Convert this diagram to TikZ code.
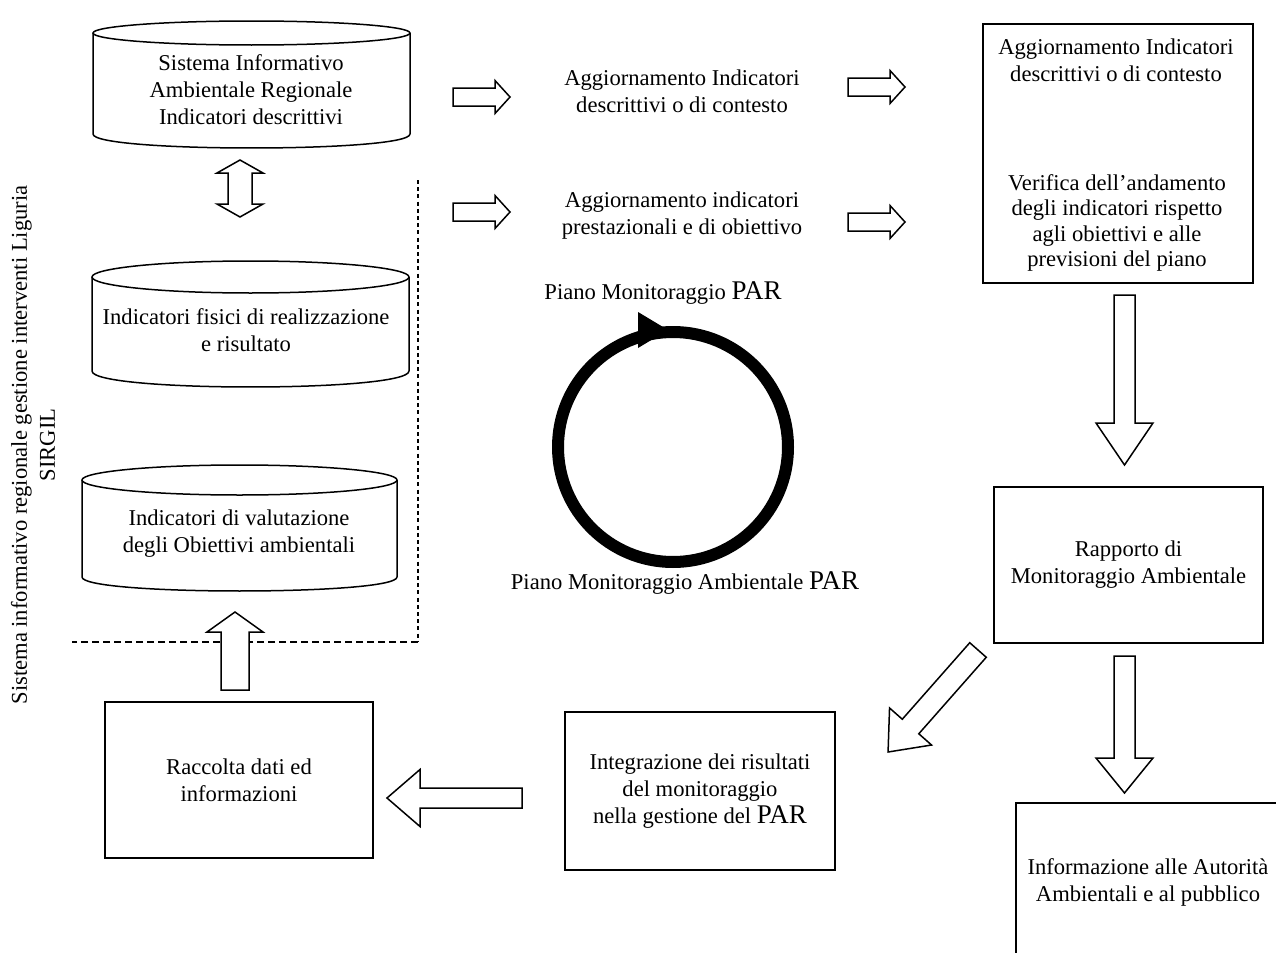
\documentclass[tikz,border=0pt]{standalone}
\usepackage{fontspec}
\setmainfont{Liberation Serif}
\tikzset{
 lbl/.style={font=\fontsize{11.3}{13.5}\selectfont, align=center, inner sep=0pt},
 boxed/.style={draw, line width=0.9pt, inner sep=0pt},
 barr/.style={draw, line width=0.75pt, fill=white, line join=miter},
 cyl/.style={draw, line width=0.75pt},
 dsh/.style={line width=0.6pt, dash pattern=on 3.5pt off 2pt},
 dshv/.style={line width=0.6pt, dash pattern=on 2pt off 1.6pt},
}
% x y angle length shaft-halfwidth head-halfwidth head-length
\newcommand\barrow[7]{\draw[barr, shift={(#1,#2)}, rotate=#3] (0,-#5) -- ({#4-#7},-#5) -- ({#4-#7},-#6) -- (#4,0) -- ({#4-#7},#6) -- ({#4-#7},#5) -- (0,#5) -- cycle;}
\newcommand\dbarrow[7]{\draw[barr, shift={(#1,#2)}, rotate=#3] (0,0) -- (#7,-#6) -- (#7,-#5) -- ({#4-#7},-#5) -- ({#4-#7},-#6) -- (#4,0) -- ({#4-#7},#6) -- ({#4-#7},#5) -- (#7,#5) -- (#7,#6) -- cycle;}
% cx halfwidth ytop rytop ybottom rybottom
\newcommand\dbcyl[6]{%
 \draw[cyl] (#1,#3) ellipse [x radius=#2, y radius=#4];
 \draw[cyl] ({#1-#2},#3) -- ({#1-#2},#5) .. controls ({#1-#2},{#5+1.333*#6}) and ({#1+#2},{#5+1.333*#6}) .. ({#1+#2},#5) -- ({#1+#2},#3);}
\begin{document}
\begin{tikzpicture}[x=0.5pt,y=-0.5pt]
\useasboundingbox (0,0) rectangle (1276,953);
\clip (0,0) rectangle (1276,953);
\fill[white] (0,0) rectangle (1276,953);

% cylinders
\dbcyl{251.5}{158.5}{33}{12}{134}{14}
\node[lbl] (c1) at (251,90) {Sistema Informativo\\Ambientale Regionale\\Indicatori descrittivi};
\dbcyl{250.5}{158.5}{277}{16}{371}{16}
\node[lbl] (c2) at (246,330) {Indicatori fisici di realizzazione\\e risultato};
\dbcyl{239.5}{157.5}{480}{15}{577}{14}
\node[lbl] (c3) at (239,534) {Indicatori di valutazione\\degli Obiettivi ambientali};

% vertical label
\node[lbl, rotate=90, font=\fontsize{11.3}{14}\selectfont] (sir) at (33,445) {Sistema informativo regionale gestione interventi Liguria\\SIRGIL};

% dashed frame
\coordinate (dtop) at (418,180);
\coordinate (dcorner) at (418,642);
\coordinate (dleft) at (72,642);
\draw[dshv] (dtop) -- (dcorner);
\draw[dsh] (dcorner) -- (dleft);

% boxes
\node[boxed, minimum width=135pt, minimum height=129.5pt] (tr) at (1118,153.5) {};
\node[lbl] (tr1) at (1116,60) {Aggiornamento Indicatori\\descrittivi o di contesto};
\node[lbl, font=\fontsize{11.3}{12.6}\selectfont] (tr2) at (1117,223) {Verifica dell’andamento\\degli indicatori rispetto\\agli obiettivi e alle\\previsioni del piano};

\node[boxed, minimum width=134.5pt, minimum height=78pt, lbl, draw] (rm) at (1128.5,565) {Rapporto di\\Monitoraggio Ambientale};
\node[boxed, minimum width=135pt, minimum height=79pt, lbl, draw] (in) at (700,791) {Integrazione dei risultati\\del monitoraggio\\nella gestione del {\fontsize{13.5}{13.5}\selectfont PAR}};
\node[boxed, minimum width=134pt, minimum height=78pt, lbl, draw] (rd) at (239,780) {Raccolta dati ed\\informazioni};
\node[boxed, minimum width=137pt, minimum height=83.5pt] (ia) at (1153,886.5) {};
\node[lbl] (iat) at (1148,882) {Informazione alle Autorità\\Ambientali e al pubblico};

% middle texts
\node[lbl] (t1) at (682,91) {Aggiornamento Indicatori\\descrittivi o di contesto};
\node[lbl] (t2) at (682,216) {Aggiornamento indicatori\\prestazionali e di obiettivo};

% cycle
\node[circle, draw, line width=6pt, minimum size=115pt, inner sep=0pt] (loopc) at (673,447) {};
\fill (638,312) -- (668,330) -- (638,348) -- cycle;
\node[lbl] (p1) at (663,293) {Piano Monitoraggio {\fontsize{13.5}{13.5}\selectfont PAR}};
\node[lbl] (p2) at (685,583) {Piano Monitoraggio Ambientale {\fontsize{13.5}{13.5}\selectfont PAR}};

% block arrows
\barrow{453}{97}{0}{57}{9}{16.5}{15}
\barrow{848}{87}{0}{57}{9}{16.5}{15}
\barrow{453}{212}{0}{57}{9}{16.5}{15}
\barrow{848}{222}{0}{57}{9}{16.5}{15}
\dbarrow{240}{160}{-90}{57}{12}{23}{13}
\barrow{235}{690}{90}{78}{14}{28}{20}
\barrow{522}{798}{180}{135}{10}{28.5}{33}
\barrow{1124.5}{295}{-90}{170}{10.5}{28.5}{42}
\barrow{1124.5}{656}{-90}{137}{10.5}{28.5}{35}
\barrow{978}{650}{228.6}{136}{11}{28}{34}
\end{tikzpicture}
\end{document}
